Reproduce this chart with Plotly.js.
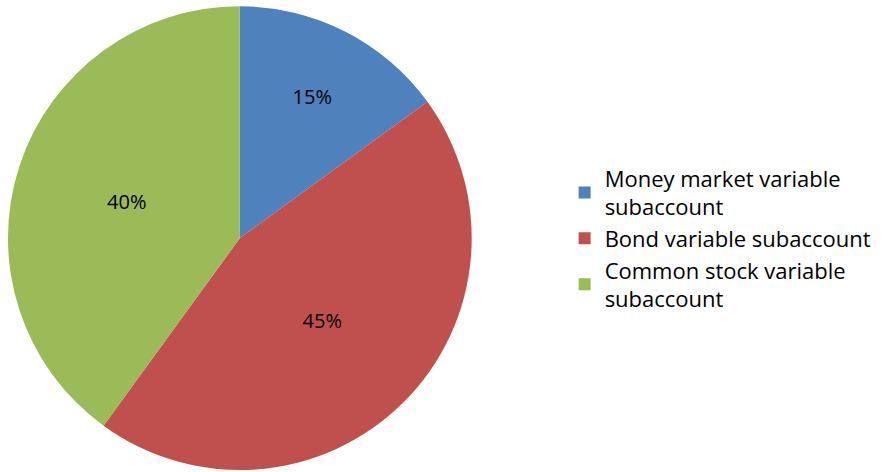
<!DOCTYPE html>
<html>
<head>
<meta charset="utf-8">
<script src="https://cdn.plot.ly/plotly-3.0.1.min.js"></script>
<style>html,body{margin:0;padding:0;background:#fff;}#chart{width:885px;height:472px;}</style>
</head>
<body>
<div id="chart"></div>
<script>
const categories = ["Money market variable<br>subaccount", "Bond variable subaccount", "Common stock variable<br>subaccount"];
const shares = [15, 45, 40];
const colors = ["#4F81BD", "#C0504D", "#9BBB59"];

const trace = {
  type: "pie",
  labels: categories,
  values: shares,
  sort: false,
  direction: "clockwise",
  rotation: 0,
  marker: {colors: colors, line: {width: 0}},
  textinfo: "percent",
  texttemplate: "%{value}%",
  textposition: "inside",
  insidetextorientation: "horizontal",
  textfont: {family: "Open Sans, sans-serif", size: 20, color: "#000"},
  hoverinfo: "label+percent",
  domain: {x: [0.009, 0.533], y: [0.004, 0.987]}
};

const layout = {
  width: 885, height: 472,
  margin: {l: 0, r: 0, t: 0, b: 0},
  paper_bgcolor: "#fff",
  showlegend: true,
  legend: {
    x: 0.638, y: 0.495, xanchor: "left", yanchor: "middle",
    font: {family: "Open Sans, sans-serif", size: 22, color: "#000"},
    itemwidth: 30, tracegroupgap: 0
  },
  font: {family: "Open Sans, sans-serif"}
};

Plotly.newPlot("chart", [trace], layout, {displayModeBar: false});
</script>
</body>
</html>
